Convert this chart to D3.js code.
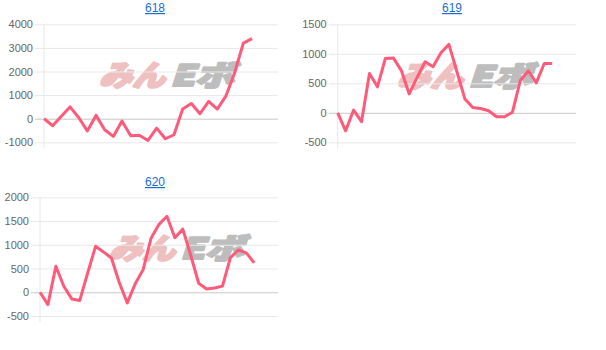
<!DOCTYPE html>
<html>
<head>
<meta charset="utf-8">
<script src="https://cdn.jsdelivr.net/npm/d3@7"></script>
<style>
  body { margin: 0; background: #fff; }
</style>
</head>
<body>
<div id="svgcontainer"></div>
<script>
// chart data, one small array per machine
const titles = ["618", "619", "620"];
const daysInMonth = [28, 31, 31];

const values618 = [0, -300, 100, 500, 50, -520, 140, -470, -750, -100, -720, -700, -920,
  -400, -850, -680, 410, 640, 210, 730, 410, 970, 1950, 3200, 3390];
const values619 = [0, -305, 45, -150, 667, 440, 920, 930, 720, 320, 600, 865, 780, 1017,
  1160, 700, 240, 90, 73, 34, -68, -68, 10, 553, 710, 508, 836, 836];
const values620 = [0, -260, 547, 126, -140, -175, 400, 967, 850, 722, 200, -224, 180, 477,
  1140, 1430, 1600, 1150, 1330, 780, 190, 70, 90, 130, 730, 890, 830, 620];

const ticks618 = [-1000, 0, 1000, 2000, 3000, 4000];
const ticks619 = [-500, 0, 500, 1000, 1500];
const ticks620 = [-500, 0, 500, 1000, 1500, 2000];

const width = 606;
const height = 350;

const svg = d3.select("#svgcontainer")
  .append("svg").attr("width", width).attr("height", height);

// panel layout (pixel boxes for each small chart)
const panels = [
  { values: values618, ticks: ticks618, left: 44, right: 278, top: 24.3, bottom: 142.3, titleX: 155, titleY: 12, wmX: 99, wmY: 86 },
  { values: values619, ticks: ticks619, left: 337.7, right: 576, top: 24.3, bottom: 142.3, titleX: 452, titleY: 12, wmX: 397, wmY: 87 },
  { values: values620, ticks: ticks620, left: 40, right: 278, top: 197.3, bottom: 316, titleX: 155, titleY: 186, wmX: 109, wmY: 259 }
];

panels.forEach((p, i) => {
  const g = svg.append("g");

  const x = d3.scaleLinear()
    .domain([0, daysInMonth[i] - 1])
    .range([p.left, p.right]);

  const y = d3.scaleLinear()
    .domain(d3.extent(p.ticks))
    .range([p.bottom, p.top]);

  // title link
  g.append("text")
    .attr("x", p.titleX)
    .attr("y", p.titleY)
    .attr("text-anchor", "middle")
    .attr("font-family", "Liberation Sans, Arial, sans-serif")
    .attr("font-size", 12)
    .attr("fill", "#1a6fce")
    .attr("text-decoration", "underline")
    .text(titles[i]);

  // watermark (heavy slanted logo text)
  const wm = g.append("g")
    .attr("transform", `translate(${p.wmX},${p.wmY}) skewX(-18)`);

  wm.append("text")
    .attr("x", 0)
    .attr("y", 0)
    .attr("font-family", "Noto Sans CJK JP")
    .attr("font-weight", "900")
    .attr("font-size", 29)
    .attr("textLength", 66)
    .attr("lengthAdjust", "spacingAndGlyphs")
    .attr("fill", "#efc0c0")
    .attr("stroke", "#efc0c0")
    .attr("stroke-width", 2.2)
    .attr("stroke-linejoin", "round")
    .text("みん");

  wm.append("text")
    .attr("x", 71)
    .attr("y", 0)
    .attr("font-family", "Noto Sans CJK JP")
    .attr("font-weight", "900")
    .attr("font-size", 29)
    .attr("textLength", 64)
    .attr("lengthAdjust", "spacingAndGlyphs")
    .attr("fill", "#bdbdbd")
    .attr("stroke", "#bdbdbd")
    .attr("stroke-width", 2.2)
    .attr("stroke-linejoin", "round")
    .text("Eボ");

  // y axis with gridlines
  const axis = g.append("g")
    .attr("transform", `translate(${p.left},0)`)
    .call(d3.axisLeft(y)
      .tickValues(p.ticks)
      .tickSize(-(p.right - p.left))
      .tickPadding(11)
      .tickFormat(d => String(d)));

  axis.select(".domain").remove();
  axis.selectAll(".tick line")
    .attr("x1", -9)
    .attr("stroke", d => d === 0 ? "#c8c8c8" : "#e8e8e8");
  axis.selectAll(".tick text")
    .attr("font-family", "Liberation Sans, Arial, sans-serif")
    .attr("font-size", 11)
    .attr("fill", "#666");

  // vertical axis line
  g.append("line")
    .attr("x1", p.left)
    .attr("x2", p.left)
    .attr("y1", p.top)
    .attr("y2", p.bottom + 6)
    .attr("stroke", "#e8e8e8");

  // the line itself
  const line = d3.line()
    .x((d, k) => x(k))
    .y(d => y(d));

  g.append("path")
    .datum(p.values)
    .attr("d", line)
    .attr("fill", "none")
    .attr("stroke", "#ff5a7a")
    .attr("stroke-width", 3)
    .attr("stroke-linejoin", "round");
});
</script>
</body>
</html>
